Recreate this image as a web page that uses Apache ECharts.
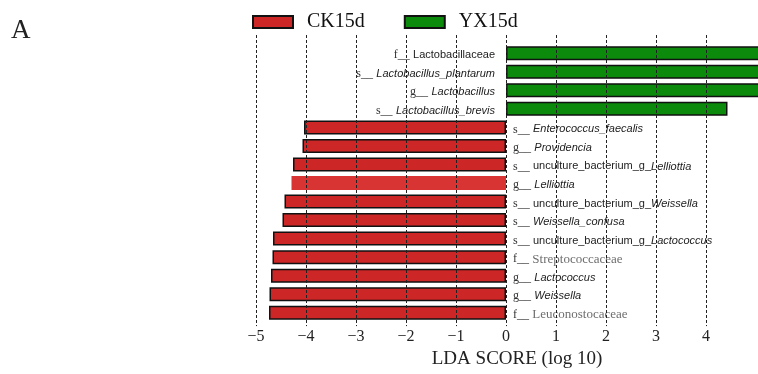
<!DOCTYPE html>
<html>
<head>
<meta charset="utf-8">
<style>
  html, body { margin: 0; padding: 0; background: #fff; }
  #chart { width: 758px; height: 374px; }
</style>
<script src="https://cdn.jsdelivr.net/npm/echarts@6/dist/echarts.min.js"></script>
</head>
<body>
<div id="chart"></div>
<script>
// LEfSe discriminant taxa, top to bottom
const taxaPrefix = ['f__', 's__', 'g__', 's__', 's__', 'g__', 's__', 'g__', 's__', 's__', 's__', 'f__', 'g__', 'g__', 'f__'];
const taxaName = [
  'Lactobacillaceae', 'Lactobacillus_plantarum', 'Lactobacillus', 'Lactobacillus_brevis',
  'Enterococcus_faecalis', 'Providencia', 'unculture_bacterium_g_Lelliottia', 'Lelliottia',
  'unculture_bacterium_g_Weissella', 'Weissella_confusa', 'unculture_bacterium_g_Lactococcus',
  'Streptococcaceae', 'Lactococcus', 'Weissella', 'Leuconostocaceae'
];
// LDA scores (log 10); CK15d enriched taxa are plotted as negative scores
const ldaYX15d = [5.32, 5.27, 5.25, 4.43, null, null, null, null, null, null, null, null, null, null, null];
const ldaCK15d = [null, null, null, null, -4.04, -4.07, -4.26, -4.29, -4.43, -4.47, -4.66, -4.67, -4.70, -4.73, -4.74];
const groupNames = ['CK15d', 'YX15d'];
const axisTicks = [-5, -4, -3, -2, -1, 0, 1, 2, 3, 4];

// how each taxon name is typeset in its label
const nameFace = ['sans', 'it', 'it', 'it', 'it', 'it', 'mix', 'it', 'mix', 'it', 'mix', 'serif', 'it', 'it', 'serif'];

const SERIF = '"Liberation Serif", "DejaVu Serif", serif';
const SANS = '"Liberation Sans", Arial, sans-serif';
const RED = '#cd2626';
const GREEN = '#0b8a0b';

function labelText(i) {
  const pre = '{p|' + taxaPrefix[i] + '} ';
  const name = taxaName[i];
  const face = nameFace[i];
  if (face === 'mix') {
    const cut = name.lastIndexOf('_') + 1;
    return pre + '{n|' + name.slice(0, cut) + '}{i|' + name.slice(cut) + '}';
  }
  if (face === 'serif') return pre + '{s|' + name + '}';
  if (face === 'sans') return pre + '{n|' + name + '}';
  return pre + '{i|' + name + '}';
}

const richStyles = {
  p: { fontFamily: SERIF, fontSize: 12, color: '#333' },
  n: { fontFamily: SANS, fontSize: 11, color: '#222' },
  i: { fontFamily: SANS, fontSize: 11, fontStyle: 'italic', color: '#222' },
  s: { fontFamily: SERIF, fontSize: 13, color: '#6e6e6e' }
};

const ckData = ldaCK15d.map(function (v, i) {
  if (v === null) return null;
  if (taxaName[i] === 'Lelliottia') {
    return { value: v, itemStyle: { color: '#d83434', borderWidth: 0 } };
  }
  return v;
});

const chart = echarts.init(document.getElementById('chart'), null, { renderer: 'canvas' });

chart.setOption({
  animation: false,
  backgroundColor: '#ffffff',
  title: {
    text: 'A',
    left: 11,
    top: 17,
    padding: 0,
    textStyle: { fontFamily: SERIF, fontSize: 27, fontWeight: 'normal', color: '#222' }
  },
  legend: {
    data: groupNames,
    left: 252,
    top: 12,
    padding: 0,
    itemWidth: 40,
    itemHeight: 12,
    itemGap: 39,
    icon: 'rect',
    textStyle: { fontFamily: SERIF, fontSize: 20, color: '#111', padding: [0, 0, 0, 9] }
  },
  grid: [
    // bar area: the score scale runs on to the right edge of the page
    { left: 256, top: 44, width: 502, height: 278 },
    // reference rules and tick labels
    { left: 256, top: 35, width: 450, height: 302 }
  ],
  xAxis: [
    { gridIndex: 0, type: 'value', min: -5, max: 5.04, show: false },
    {
      gridIndex: 1,
      type: 'value',
      min: axisTicks[0],
      max: axisTicks[axisTicks.length - 1],
      interval: 1,
      z: 5,
      axisLine: { show: false },
      axisTick: { show: false },
      splitLine: { show: true, lineStyle: { color: '#222', width: 1, type: [3, 2] } },
      axisLabel: {
        margin: 3,
        fontFamily: SERIF,
        fontSize: 16,
        color: '#222',
        formatter: function (v) { return String(v).replace('-', '\u2212'); }
      },
      name: 'LDA SCORE (log 10)',
      nameLocation: 'middle',
      nameGap: 20,
      nameTextStyle: { fontFamily: SERIF, fontSize: 19, color: '#222', padding: [0, 0, 0, 72] }
    }
  ],
  yAxis: [
    { gridIndex: 0, type: 'category', data: taxaName, inverse: true, show: false },
    { gridIndex: 1, type: 'value', min: 0, max: 1, show: false }
  ],
  series: [
    {
      name: groupNames[0],
      type: 'bar',
      xAxisIndex: 0,
      yAxisIndex: 0,
      stack: 'lda',
      barWidth: 14,
      data: ckData,
      itemStyle: { color: RED, borderColor: '#111', borderWidth: 1.5 },
      label: {
        show: true,
        position: 'right',
        distance: 7,
        offset: [0, 2],
        formatter: function (p) { return labelText(p.dataIndex); },
        rich: richStyles
      }
    },
    {
      name: groupNames[1],
      type: 'bar',
      xAxisIndex: 0,
      yAxisIndex: 0,
      stack: 'lda',
      barWidth: 14,
      clip: false,
      data: ldaYX15d,
      itemStyle: { color: GREEN, borderColor: '#111', borderWidth: 1.5 },
      label: {
        show: true,
        position: 'left',
        distance: 11,
        offset: [0, 2],
        formatter: function (p) { return labelText(p.dataIndex); },
        rich: richStyles
      }
    }
  ]
});
</script>
</body>
</html>
